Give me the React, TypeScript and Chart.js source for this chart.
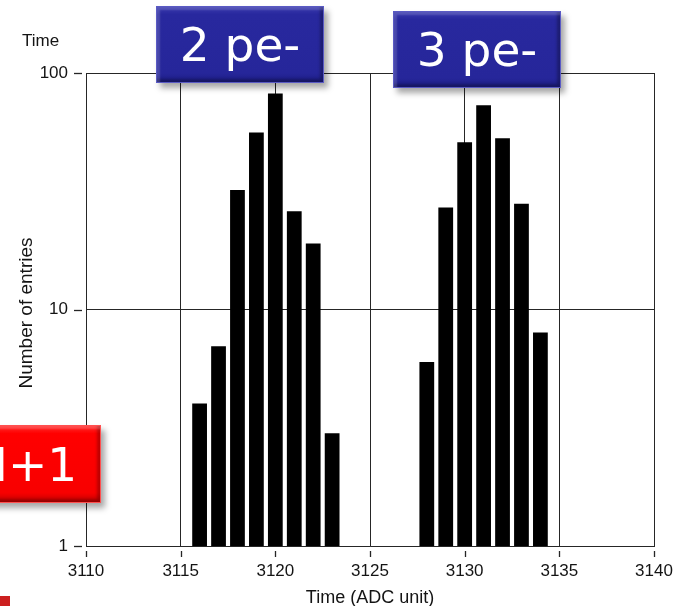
import React, { useEffect, useRef } from "react";
import { Chart, registerables } from "chart.js";

Chart.register(...registerables);

// Histogram of hit times: counts per ADC time bin
const GROUP_A_BINS = [3116, 3117, 3118, 3119, 3120, 3121, 3122, 3123];
const GROUP_A_COUNTS = [4, 7, 32, 56, 82, 26, 19, 3];
const GROUP_B_BINS = [3128, 3129, 3130, 3131, 3132, 3133, 3134];
const GROUP_B_COUNTS = [6, 27, 51, 73, 53, 28, 8];

const X_TICKS = [3110, 3115, 3120, 3125, 3130, 3135, 3140];
const Y_TICKS = [1, 10, 100];

const X_TITLE = "Time (ADC unit)";
const Y_TITLE = "Number of entries";
const GRAPH_NAME = "Time";
const TAGS = ["2 pe-", "3 pe-", "N+1"];

const W = 673;
const H = 606;
const LINE = "#262626";
const TEXT = "#141414";
const LABEL_FONT = '"Liberation Sans", Arial, sans-serif';

const crisp = (v: number) => Math.round(v) + 0.5;

// Tick marks with a small gap from the frame, plus axis titles and graph name
const decorPlugin = {
  id: "decor",
  afterDraw(chart: any) {
    const { ctx, chartArea, scales } = chart;
    const { left, right, bottom } = chartArea;
    ctx.save();
    ctx.strokeStyle = LINE;
    ctx.lineWidth = 1.3;
    for (const v of Y_TICKS) {
      const y = crisp(scales.y.getPixelForValue(v));
      ctx.beginPath();
      ctx.moveTo(left - 12, y);
      ctx.lineTo(left - 4, y);
      ctx.stroke();
    }
    for (const v of X_TICKS) {
      const x = crisp(scales.x.getPixelForValue(v));
      ctx.beginPath();
      ctx.moveTo(x, bottom + 5);
      ctx.lineTo(x, bottom + 11);
      ctx.stroke();
    }
    ctx.fillStyle = TEXT;
    ctx.textBaseline = "alphabetic";
    ctx.font = `18px ${LABEL_FONT}`;
    ctx.textAlign = "center";
    ctx.fillText(X_TITLE, (left + right) / 2, 603);
    ctx.save();
    ctx.translate(32, 313);
    ctx.rotate(-Math.PI / 2);
    ctx.font = `19px ${LABEL_FONT}`;
    ctx.fillText(Y_TITLE, 0, 0);
    ctx.restore();
    ctx.font = `17px ${LABEL_FONT}`;
    ctx.textAlign = "left";
    ctx.fillText(GRAPH_NAME, 22, 46);
    ctx.restore();
  },
};

const tagBase: React.CSSProperties = {
  position: "absolute",
  display: "flex",
  alignItems: "center",
  justifyContent: "center",
  color: "#ffffff",
  fontFamily: '"DejaVu Sans", Verdana, sans-serif',
  fontSize: 47,
  lineHeight: 1,
  whiteSpace: "nowrap",
  boxSizing: "border-box",
};

const blueTag: React.CSSProperties = {
  ...tagBase,
  background: "linear-gradient(180deg, #3838ad 0%, #28289e 10%, #26269a 88%, #1d1d86 100%)",
  border: "1px solid #5a5ac4",
  boxShadow:
    "inset 3px 3px 2px rgba(255,255,255,0.16), inset -3px -3px 3px rgba(0,0,0,0.28), 4px 5px 6px rgba(0,0,0,0.35)",
};

const redTag: React.CSSProperties = {
  ...tagBase,
  background: "linear-gradient(180deg, #ff2a2a 0%, #ff0000 10%, #f80000 88%, #c40000 100%)",
  border: "1px solid #ff5050",
  boxShadow:
    "inset 3px 3px 2px rgba(255,255,255,0.18), inset -3px -3px 3px rgba(0,0,0,0.25), 4px 5px 6px rgba(0,0,0,0.35)",
};

export default function App() {
  const canvasRef = useRef<HTMLCanvasElement | null>(null);

  useEffect(() => {
    const canvas = canvasRef.current;
    if (!canvas) return;
    const points = [
      ...GROUP_A_BINS.map((x, i) => ({ x, y: GROUP_A_COUNTS[i] })),
      ...GROUP_B_BINS.map((x, i) => ({ x, y: GROUP_B_COUNTS[i] })),
    ];
    const chart = new Chart(canvas, {
      type: "bar",
      data: {
        datasets: [
          {
            label: "Entries",
            data: points,
            backgroundColor: "#000000",
            borderWidth: 0,
            categoryPercentage: 1,
            barPercentage: 0.78,
          },
        ],
      },
      options: {
        responsive: false,
        animation: false,
        events: [],
        layout: { padding: { left: 0, right: 19, top: 73, bottom: 0 } },
        plugins: {
          legend: { display: false },
          tooltip: { enabled: false },
          title: { display: false },
        },
        scales: {
          x: {
            type: "linear",
            min: 3110,
            max: 3140,
            offset: false,
            afterBuildTicks: (s: any) => {
              s.ticks = X_TICKS.map((v) => ({ value: v }));
            },
            afterFit: (s: any) => {
              s.height = H - 546;
              s.paddingLeft = 0;
              s.paddingRight = 0;
            },
            ticks: {
              autoSkip: false,
              maxRotation: 0,
              padding: 15,
              color: TEXT,
              font: { family: LABEL_FONT, size: 17 },
              callback: (v: any) => String(v),
            },
            grid: { color: LINE, lineWidth: 1, drawTicks: false, offset: false },
            border: { display: true, color: LINE, width: 1 },
          },
          y: {
            type: "logarithmic",
            min: 1,
            max: 100,
            afterBuildTicks: (s: any) => {
              s.ticks = Y_TICKS.map((v) => ({ value: v }));
            },
            afterFit: (s: any) => {
              s.width = 86;
            },
            ticks: {
              autoSkip: false,
              padding: 18,
              color: TEXT,
              font: { family: LABEL_FONT, size: 17 },
              callback: (v: any) => String(v),
            },
            grid: { color: LINE, lineWidth: 1, drawTicks: false },
            border: { display: true, color: LINE, width: 1 },
          },
        },
      },
      plugins: [decorPlugin],
    } as any);
    return () => chart.destroy();
  }, []);

  return (
    <div
      style={{
        position: "fixed",
        left: 0,
        top: 0,
        width: W,
        height: H,
        overflow: "hidden",
        background: "#ffffff",
      }}
    >
      <canvas ref={canvasRef} width={W} height={H} style={{ position: "absolute", left: 0, top: 0 }} />
      <div style={{ ...blueTag, left: 156, top: 6, width: 168, height: 77 }}>{TAGS[0]}</div>
      <div style={{ ...blueTag, left: 393, top: 11, width: 168, height: 77 }}>{TAGS[1]}</div>
      <div style={{ ...redTag, left: -51, top: 425, width: 152, height: 78 }}>{TAGS[2]}</div>
      <div
        style={{
          position: "absolute",
          left: 0,
          top: 596,
          width: 10,
          height: 10,
          background: "#cc1f1f",
        }}
      />
    </div>
  );
}
